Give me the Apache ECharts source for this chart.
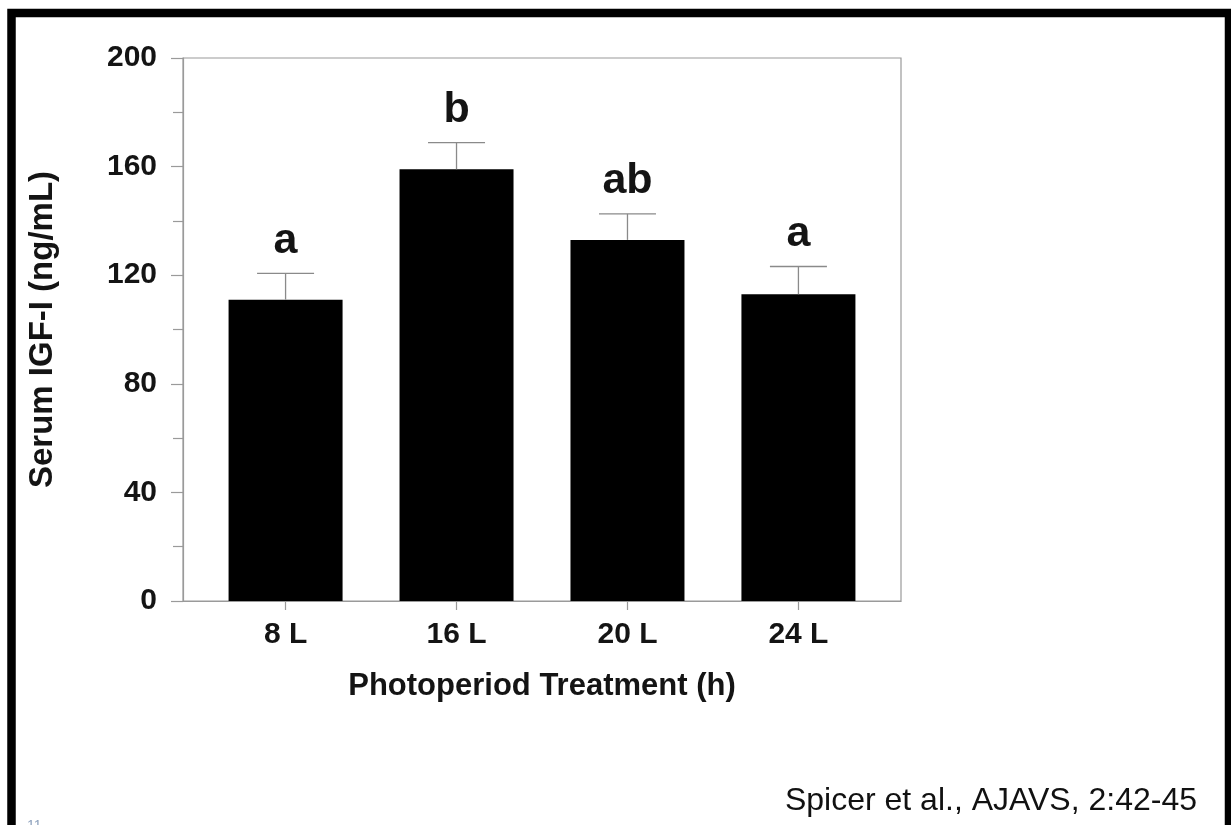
<!DOCTYPE html>
<html>
<head>
<meta charset="utf-8">
<title>Serum IGF-I by photoperiod</title>
<script src="https://cdn.jsdelivr.net/npm/echarts@6/dist/echarts.min.js"></script>
<style>
  html, body { margin: 0; padding: 0; background: #fff; }
  #chart { width: 1231px; height: 825px; }
</style>
</head>
<body>
<div id="chart"></div>
<script>
// Photoperiod groups, mean serum IGF-I (ng/mL), SEM and significance letters
const categories = ['8 L', '16 L', '20 L', '24 L'];
const meanIGF = [111, 159, 133, 113];
const semIGF = [9.7, 9.8, 9.6, 10.2];
const groupLetters = ['a', 'b', 'ab', 'a'];
const citation = 'Spicer et al., AJAVS, 2:42-45';
const slideNumber = '11';

const FONT = '"Liberation Sans", Arial, Helvetica, sans-serif';
const AXIS_GRAY = '#9a9a9a';
const TEXT = '#141414';

// Groups sit at positions 1..4 on a numeric x scale
const positions = categories.map((_, i) => i + 1);
const barData = meanIGF.map((v, i) => [positions[i], v]);
const errData = meanIGF.map((v, i) => [positions[i], v, semIGF[i]]);

const chart = echarts.init(document.getElementById('chart'), null, { renderer: 'canvas' });

const BAR_WIDTH = 114;

chart.setOption({
  backgroundColor: '#ffffff',
  animation: false,
  grid: {
    left: 183, right: 330, top: 58, bottom: 224,
    show: true, borderColor: AXIS_GRAY, borderWidth: 1.2, backgroundColor: 'transparent'
  },
  xAxis: {
    type: 'value',
    min: 0.4, max: 4.6,
    name: 'Photoperiod Treatment (h)',
    nameLocation: 'middle',
    nameGap: 70,
    nameTextStyle: { fontFamily: FONT, fontWeight: 'bold', fontSize: 31, color: TEXT },
    axisLine: { show: true, lineStyle: { color: AXIS_GRAY, width: 1.2 } },
    axisTick: { show: true, length: 9, customValues: positions, lineStyle: { color: AXIS_GRAY, width: 1.2 } },
    axisLabel: {
      customValues: positions,
      margin: 19,
      fontFamily: FONT, fontWeight: 'bold', fontSize: 30, color: TEXT,
      formatter: v => categories[Math.round(v) - 1] || ''
    },
    splitLine: { show: false }
  },
  yAxis: {
    type: 'value',
    min: 0, max: 200, interval: 40,
    name: 'Serum IGF-I (ng/mL)',
    nameLocation: 'middle',
    nameRotate: 90,
    nameGap: 124,
    nameTextStyle: { fontFamily: FONT, fontWeight: 'bold', fontSize: 33, color: TEXT },
    axisLine: { show: true, lineStyle: { color: AXIS_GRAY, width: 1.2 } },
    axisTick: { show: true, length: 12, lineStyle: { color: AXIS_GRAY, width: 1.2 } },
    minorTick: { show: true, splitNumber: 2, length: 10, lineStyle: { color: AXIS_GRAY, width: 1.2 } },
    axisLabel: {
      margin: 26, padding: [5, 0, 0, 0],
      fontFamily: FONT, fontWeight: 'bold', fontSize: 30, color: TEXT
    },
    splitLine: { show: false },
    minorSplitLine: { show: false }
  },
  series: [
    {
      name: 'Serum IGF-I',
      type: 'bar',
      data: barData,
      barWidth: BAR_WIDTH,
      itemStyle: { color: '#000000' },
      silent: true
    },
    {
      name: 'SEM',
      type: 'custom',
      data: errData,
      silent: true,
      z: 3,
      renderItem: function (params, api) {
        const x = api.value(0);
        const m = api.value(1);
        const e = api.value(2);
        const base = api.coord([x, m]);
        const top = api.coord([x, m + e]);
        const half = BAR_WIDTH / 4;
        const lineStyle = { stroke: '#8a8a8a', lineWidth: 1.3 };
        return {
          type: 'group',
          children: [
            { type: 'line', shape: { x1: base[0], y1: base[1], x2: top[0], y2: top[1] }, style: lineStyle },
            { type: 'line', shape: { x1: top[0] - half, y1: top[1], x2: top[0] + half, y2: top[1] }, style: lineStyle },
            {
              type: 'text',
              x: top[0],
              y: top[1] - 11,
              style: {
                text: groupLetters[params.dataIndex],
                font: 'bold 43px ' + FONT,
                fill: TEXT,
                align: 'center',
                verticalAlign: 'bottom'
              }
            }
          ]
        };
      }
    }
  ],
  graphic: [
    {
      // slide frame
      type: 'rect',
      silent: true,
      z: 100,
      shape: { x: 11.5, y: 13, width: 1217.5, height: 900 },
      style: { fill: 'none', stroke: '#000000', lineWidth: 8.5 }
    },
    {
      type: 'text',
      silent: true,
      x: 1197, y: 801,
      style: {
        text: citation,
        font: '32px ' + FONT,
        fill: '#111111',
        align: 'right',
        verticalAlign: 'middle'
      }
    },
    {
      type: 'text',
      silent: true,
      x: 27, y: 819,
      style: {
        text: slideNumber,
        font: '14px ' + FONT,
        fill: '#8ea2bd',
        align: 'left',
        verticalAlign: 'top'
      }
    }
  ]
});
</script>
</body>
</html>
